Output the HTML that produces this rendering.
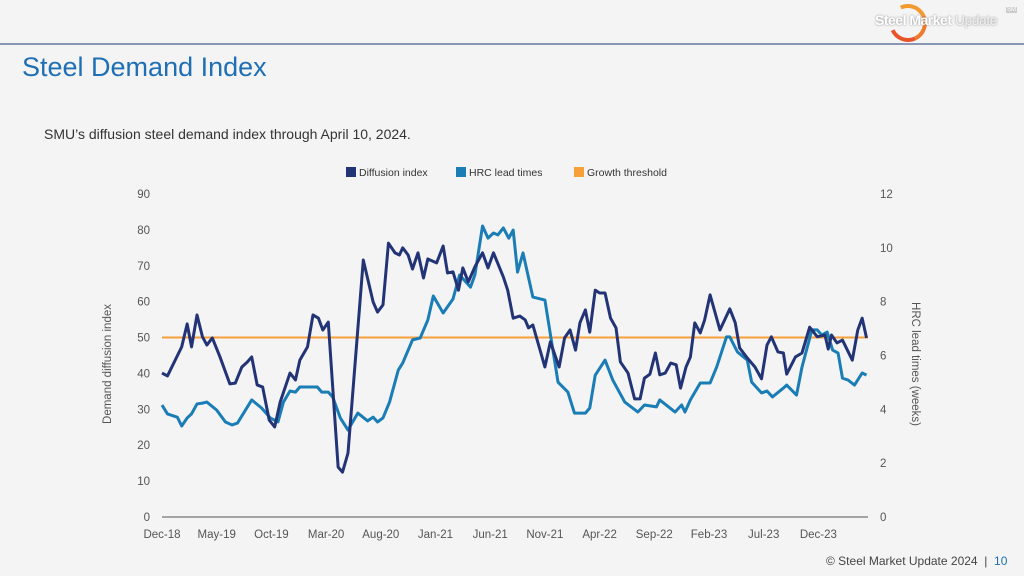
<!DOCTYPE html>
<html><head><meta charset="utf-8"><style>
body{margin:0;width:1024px;height:576px;background:#f4f4f4;font-family:"Liberation Sans",sans-serif;overflow:hidden;position:relative}
.t{position:absolute;white-space:nowrap}
</style></head><body>
<div style="position:absolute;left:0;top:43px;width:1024px;height:2px;background:#8a97b5"></div>
<div style="position:absolute;left:889px;top:4px;width:30px;height:30px;border-radius:50%;border:4px solid #e8532a;border-top-color:#f39a2e;border-right-color:#f07a2c;border-left-color:transparent;transform:rotate(20deg)"></div>
<div class="t" style="left:875px;top:12px;font-size:14px;font-weight:bold;color:#fff;text-shadow:0 0 2px #888;letter-spacing:-0.5px">Steel Market <span style="font-weight:normal;color:#f0f0f0">Update</span></div>
<div class="t" style="left:1006px;top:7px;font-size:6px;color:#fff;background:#ccc;padding:0 1px">SM</div>
<div class="t" style="left:22px;top:52px;font-size:27px;color:#1f6fb5">Steel Demand Index</div>
<div class="t" style="left:44px;top:126px;font-size:14px;color:#333">SMU’s diffusion steel demand index through April 10, 2024.</div>
<div class="t" style="left:826px;top:554px;font-size:12px;color:#444">© Steel Market Update 2024 &nbsp;| &nbsp;<span style="color:#1f6fb5">10</span></div>
<svg id="c" width="1024" height="576" style="position:absolute;left:0;top:0" font-family="Liberation Sans, sans-serif"></svg>
<script>
const xLabels=["Dec-18","May-19","Oct-19","Mar-20","Aug-20","Jan-21","Jun-21","Nov-21","Apr-22","Sep-22","Feb-23","Jul-23","Dec-23"];
const leftTicks=[0,10,20,30,40,50,60,70,80,90];
const rightTicks=[0,2,4,6,8,10,12];
const threshold=50;
const diffMonths=[0,0.5,1.8,2.3,2.7,3.2,3.7,4.1,4.6,5.3,6.2,6.7,7.3,7.8,8.2,8.7,9.2,9.8,10.3,10.8,11.7,12.2,12.6,13.3,13.8,14.3,14.7,15.2,16.1,16.5,17.0,18.4,19.3,19.7,20.2,20.7,21.3,21.7,22.0,22.5,22.9,23.4,23.9,24.3,25.1,25.7,26.1,26.6,27.1,27.5,28.0,28.6,29.3,29.8,30.3,31.2,31.6,32.1,32.7,33.2,33.5,33.9,35.0,35.5,36.3,36.8,37.3,37.8,38.2,38.7,39.1,39.6,40.0,40.5,41.0,41.5,41.9,42.6,43.2,43.7,44.1,44.6,45.1,45.5,46.0,46.5,47.0,47.4,47.9,48.3,48.7,49.2,49.6,50.1,51.0,51.9,52.4,52.8,53.5,54.2,54.8,55.3,55.7,56.3,56.8,57.1,57.9,58.5,59.2,59.9,60.6,60.9,61.2,61.7,62.2,63.1,63.6,64.0,64.4];
const diffValues=[40.1,39.3,47.4,53.8,47.4,56.3,50.2,47.9,49.9,44.6,37.1,37.3,41.8,43.2,44.6,36.8,36.2,27.0,25.1,32.0,40.1,38.2,43.7,47.4,56.3,55.4,52.1,54.3,13.9,12.5,17.8,71.6,59.9,57.1,59.1,76.3,73.6,73.0,75.0,73.0,69.1,73.6,66.6,71.9,70.8,75.5,68.0,68.3,63.2,69.4,65.5,69.7,73.6,69.4,73.6,66.9,63.2,55.4,56.0,54.9,52.7,53.5,41.8,48.8,41.8,49.9,52.1,46.5,54.1,57.7,51.5,63.2,62.4,62.4,55.4,52.7,43.2,40.1,32.9,32.9,38.7,39.8,45.7,39.6,40.1,42.9,42.4,35.9,41.8,44.6,54.1,51.3,54.9,61.9,52.1,58.0,54.1,47.1,44.3,41.8,38.5,47.9,50.2,46.0,45.7,39.8,44.6,45.7,52.9,50.2,50.7,46.8,50.7,48.5,49.3,43.7,52.1,55.4,49.9];
const hrcMonths=[0,0.5,1.4,1.8,2.3,2.7,3.2,3.7,4.1,5.0,5.8,6.4,6.9,8.2,9.1,9.9,10.6,11.1,11.7,12.2,12.6,14.2,14.6,15.2,15.6,16.3,17.0,17.9,18.8,19.3,19.7,20.2,20.8,21.6,22.0,22.9,23.6,24.3,24.8,25.7,26.6,27.2,28.2,28.6,29.3,29.8,30.3,30.7,31.2,31.7,32.1,32.5,33.0,33.9,35.0,36.2,37.1,37.7,38.7,39.1,39.6,40.5,41.2,42.3,43.5,44.1,45.2,45.5,46.9,47.5,47.8,48.3,49.2,50.1,50.7,51.6,51.9,52.6,53.5,53.9,54.8,55.3,55.8,56.8,57.1,58.0,58.5,59.4,59.9,60.3,60.8,61.3,61.8,62.2,62.7,63.3,64.0,64.4];
const hrcWeeks=[4.16,3.83,3.71,3.38,3.68,3.83,4.20,4.23,4.27,3.97,3.53,3.42,3.49,4.35,4.05,3.68,3.53,4.27,4.68,4.64,4.83,4.83,4.64,4.64,4.46,3.68,3.23,3.86,3.57,3.71,3.53,3.68,4.27,5.46,5.72,6.58,6.65,7.32,8.21,7.58,8.10,8.99,8.54,8.99,10.81,10.36,10.55,10.48,10.74,10.36,10.66,9.10,9.81,8.17,8.06,5.01,4.64,3.86,3.86,4.05,5.27,5.83,5.09,4.27,3.90,4.16,4.09,4.35,3.90,4.16,3.90,4.35,4.98,4.98,5.57,6.69,6.69,6.13,5.83,5.01,4.61,4.68,4.46,4.79,4.90,4.53,5.57,6.95,6.95,6.76,6.87,6.20,6.09,5.16,5.09,4.90,5.35,5.27];
const X0=162,PX_PER_MONTH=10.94,Y0=517,YT=194;
const xs=m=>X0+m*PX_PER_MONTH;
const yl=v=>Y0-(v/90)*(Y0-YT);
const yr=w=>Y0-(w/12)*(Y0-YT);
const svg=document.getElementById('c');const NS='http://www.w3.org/2000/svg';
function mk(t,a){const e=document.createElementNS(NS,t);for(const k in a)e.setAttribute(k,a[k]);svg.appendChild(e);return e;}
const ax=mk('line',{x1:X0,x2:868,y1:Y0,y2:Y0,stroke:'#555','stroke-width':1});


xLabels.forEach((l,i)=>{const t=mk('text',{x:xs(i*5),y:538,'font-size':11.5,fill:'#555','text-anchor':'middle'});t.textContent=l;

});
leftTicks.forEach(v=>{const t=mk('text',{x:150,y:yl(v)+4,'font-size':11.5,fill:'#555','text-anchor':'end'});t.textContent=v;

});
rightTicks.forEach(v=>{const t=mk('text',{x:880,y:yr(v)+4,'font-size':11.5,fill:'#555','text-anchor':'start'});t.textContent=v;

});
const lt=mk('text',{x:0,y:0,'font-size':11.5,fill:'#555','text-anchor':'middle',transform:'translate(111,364) rotate(-90)'});lt.textContent='Demand diffusion index';


const rt=mk('text',{x:0,y:0,'font-size':11.5,fill:'#555','text-anchor':'middle',transform:'translate(912,364) rotate(90)'});rt.textContent='HRC lead times (weeks)';


const th=mk('line',{x1:X0,x2:868,y1:yl(threshold),y2:yl(threshold),stroke:'#f7a03a','stroke-width':2});


const hp=mk('polyline',{points:hrcMonths.map((m,i)=>xs(m)+','+yr(hrcWeeks[i])).join(' '),fill:'none',stroke:'#1a7db5','stroke-width':3,'stroke-linejoin':'round'});


const dp=mk('polyline',{points:diffMonths.map((m,i)=>xs(m)+','+yl(diffValues[i])).join(' '),fill:'none',stroke:'#233476','stroke-width':3,'stroke-linejoin':'round'});


const leg=[['Diffusion index','#233476',346],['HRC lead times','#1a7db5',456],['Growth threshold','#f7a03a',574]];
leg.forEach(([n,c,x])=>{const r=mk('rect',{x:x,y:167,width:10,height:10,fill:c});


const t=mk('text',{x:x+13,y:176,'font-size':10.5,fill:'#333'});t.textContent=n;

});
</script>
</body></html>
